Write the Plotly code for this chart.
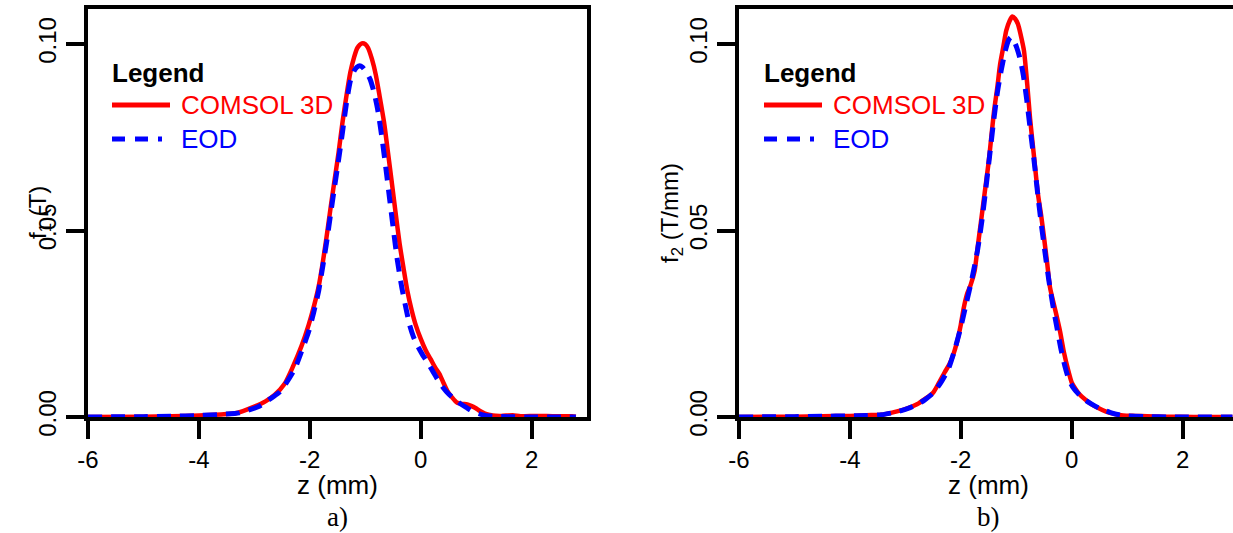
import plotly.graph_objects as go

# ---------------- data ----------------
z1_comsol = [-6.0, -5.0, -4.5, -4.0, -3.6, -3.34, -3.0, -2.8, -2.63, -2.45, -2.31, -2.15, -2.02, -1.92,
             -1.84, -1.77, -1.70, -1.63, -1.56, -1.48, -1.41, -1.34, -1.27, -1.20, -1.14, -1.06, -1.00,
             -0.95, -0.88, -0.81, -0.74, -0.66, -0.59, -0.52, -0.45, -0.38, -0.31, -0.24, -0.16, -0.09,
             0.0, 0.09, 0.18, 0.26, 0.34, 0.41, 0.48, 0.57, 0.66, 0.75, 0.84, 0.91, 0.98, 1.07, 1.16,
             1.30, 1.45, 1.66, 1.80, 2.09, 2.40, 2.73, 2.80]
f1_comsol = [0.0, 0.0001, 0.0002, 0.0004, 0.0007, 0.0010, 0.0028, 0.0042, 0.0060, 0.0090, 0.0133, 0.0190,
             0.0247, 0.0300, 0.0350, 0.0410, 0.0480, 0.0555, 0.0628, 0.0710, 0.0790, 0.0860, 0.0923,
             0.0965, 0.0990, 0.1002, 0.1000, 0.0990, 0.0960, 0.0918, 0.0860, 0.0790, 0.0710, 0.0628,
             0.0545, 0.0465, 0.0400, 0.0338, 0.0285, 0.0247, 0.0210, 0.0179, 0.0155, 0.0133, 0.0115,
             0.0092, 0.0070, 0.0052, 0.0038, 0.0035, 0.0034, 0.0030, 0.0025, 0.0016, 0.0009, 0.0004,
             0.0003, 0.0005, 0.0002, 0.0003, 0.0002, 0.0002, 0.0001]

z1_eod = [-6.0, -5.0, -4.5, -3.99, -3.6, -3.27, -2.91, -2.75, -2.56, -2.42, -2.27, -2.15, -2.02, -1.93,
          -1.84, -1.77, -1.70, -1.63, -1.56, -1.48, -1.41, -1.34, -1.27, -1.20, -1.15, -1.10, -1.05,
          -0.98, -0.91, -0.84, -0.77, -0.70, -0.63, -0.56, -0.49, -0.42, -0.34, -0.27, -0.20, -0.13,
          -0.06, 0.03, 0.12, 0.21, 0.30, 0.40, 0.51, 0.62, 0.73, 0.84, 0.94, 1.05, 1.16, 1.30, 1.60,
          2.00, 2.80]
f1_eod = [0.0, 0.0001, 0.0002, 0.0004, 0.0007, 0.0011, 0.0029, 0.0045, 0.0065, 0.0092, 0.0129, 0.0175,
          0.0229, 0.0280, 0.0338, 0.0400, 0.0465, 0.0538, 0.0610, 0.0690, 0.0764, 0.0840, 0.0900,
          0.0928, 0.0938, 0.0942, 0.0938, 0.0925, 0.0905, 0.0870, 0.0820, 0.0750, 0.0670, 0.0585,
          0.0500, 0.0420, 0.0347, 0.0295, 0.0247, 0.0215, 0.0192, 0.0168, 0.0147, 0.0125, 0.0102,
          0.0080, 0.0061, 0.0047, 0.0034, 0.0024, 0.0015, 0.0009, 0.0004, 0.0002, 0.0001, 0.0, 0.0]

z2_comsol = [-6.0, -5.0, -4.5, -4.0, -3.7, -3.43, -3.15, -2.95, -2.79, -2.65, -2.50, -2.40, -2.29, -2.21,
             -2.14, -2.07, -2.00, -1.95, -1.89, -1.82, -1.75, -1.70, -1.64, -1.57, -1.50, -1.45, -1.40,
             -1.34, -1.29, -1.23, -1.18, -1.12, -1.07, -1.02, -0.97, -0.92, -0.86, -0.80, -0.75, -0.68,
             -0.61, -0.55, -0.50, -0.44, -0.39, -0.29, -0.21, -0.14, -0.07, 0.0, 0.07, 0.14, 0.25, 0.36,
             0.48, 0.61, 0.75, 0.93, 1.15, 1.36, 1.70, 2.20, 2.90]
f2_comsol = [0.0, 0.0001, 0.0002, 0.0003, 0.0005, 0.0006, 0.0015, 0.0024, 0.0034, 0.0048, 0.0065, 0.0090,
             0.0120, 0.0140, 0.0165, 0.0200, 0.0247, 0.0290, 0.0328, 0.0355, 0.0392, 0.0450, 0.0519,
             0.0600, 0.0680, 0.0750, 0.0820, 0.0885, 0.0946, 0.0995, 0.1036, 0.1062, 0.1074, 0.1068,
             0.1054, 0.1025, 0.0982, 0.0890, 0.0800, 0.0700, 0.0600, 0.0540, 0.0483, 0.0410, 0.0347,
             0.0283, 0.0230, 0.0174, 0.0130, 0.0093, 0.0075, 0.0061, 0.0046, 0.0034, 0.0024, 0.0015,
             0.0009, 0.0004, 0.0003, 0.0002, 0.0001, 0.0, 0.0]

z2_eod = [-6.0, -5.0, -4.5, -4.0, -3.7, -3.43, -3.15, -2.95, -2.79, -2.65, -2.50, -2.36, -2.22, -2.10,
          -2.00, -1.90, -1.80, -1.70, -1.62, -1.55, -1.48, -1.41, -1.34, -1.27, -1.20, -1.14, -1.10,
          -1.05, -0.99, -0.93, -0.87, -0.81, -0.75, -0.68, -0.61, -0.55, -0.48, -0.41, -0.34, -0.26,
          -0.19, -0.12, -0.05, 0.03, 0.12, 0.25, 0.40, 0.55, 0.70, 0.85, 1.0, 1.3, 1.8, 2.9]
f2_eod = [0.0, 0.0001, 0.0002, 0.0003, 0.0004, 0.0006, 0.0014, 0.0023, 0.0033, 0.0046, 0.0064, 0.0092,
          0.0130, 0.0185, 0.0240, 0.0305, 0.0370, 0.0445, 0.0525, 0.0610, 0.0700, 0.0790, 0.0870,
          0.0930, 0.0980, 0.1010, 0.1018, 0.1012, 0.0990, 0.0960, 0.0915, 0.0850, 0.0775, 0.0690,
          0.0595, 0.0520, 0.0440, 0.0365, 0.0300, 0.0235, 0.0180, 0.0135, 0.0100, 0.0078, 0.0062,
          0.0045, 0.0031, 0.0020, 0.0012, 0.0006, 0.0003, 0.0001, 0.0, 0.0]

series_names = ["COMSOL 3D", "EOD"]
legend_title = "Legend"
x_tick_vals = [-6, -4, -2, 0, 2]
x_tick_text = ["-6", "-4", "-2", "0", "2"]
y_tick_vals = [0.0, 0.05, 0.10]
y_tick_text = ["0.00", "0.05", "0.10"]
x_title = "z (mm)"
y_titles = ["f<sub>1</sub> (T)", "f<sub>2</sub> (T/mm)"]
panel_labels = ["a)", "b)"]

# ---------------- layout helpers ----------------
W, H = 1233, 533
RED, BLUE = "#ff0000", "#0000ff"
FONT = "Arial, Liberation Sans, sans-serif"
SERIF = "Times New Roman, Liberation Serif, serif"


def px(x):
    return x / W


def py(y):
    return 1 - y / H


dom_x = [[px(88), px(587)], [px(739), 1.0]]
dom_y = [py(417), py(9)]
x_ranges = [[-6, 3], [-6, -6 + 9 * (W - 739) / 499]]

fig = go.Figure()
data = [((z1_comsol, f1_comsol), (z1_eod, f1_eod)), ((z2_comsol, f2_comsol), (z2_eod, f2_eod))]
for i, ((zc, fc), (ze, fe)) in enumerate(data):
    xa = "x" if i == 0 else "x2"
    ya = "y" if i == 0 else "y2"
    fig.add_trace(go.Scatter(x=zc, y=fc, mode="lines", name=series_names[0], xaxis=xa, yaxis=ya,
                             line=dict(color=RED, width=4.5, shape="spline", smoothing=0.6),
                             showlegend=False, hoverinfo="skip"))
    fig.add_trace(go.Scatter(x=ze, y=fe, mode="lines", name=series_names[1], xaxis=xa, yaxis=ya,
                             line=dict(color=BLUE, width=5, dash="14px,9px", shape="spline", smoothing=0.6),
                             showlegend=False, hoverinfo="skip"))

axis_common = dict(showgrid=False, zeroline=False, showline=True, linecolor="black", linewidth=4,
                   ticks="outside", ticklen=18, tickwidth=4, tickcolor="black", automargin=False,
                   tickfont=dict(family=FONT, size=24, color="black"))

for i in range(2):
    sfx = "" if i == 0 else "2"
    fig.layout["xaxis" + sfx] = dict(axis_common, domain=dom_x[i], range=x_ranges[i],
                                     tickvals=x_tick_vals, ticktext=x_tick_text, mirror=True,
                                     anchor="y" + sfx)
    fig.layout["yaxis" + sfx] = dict(axis_common, domain=dom_y, range=[0, 0.1094],
                                     tickvals=y_tick_vals, ticktext=y_tick_text, tickangle=-90,
                                     mirror=(i == 0), anchor="x" + sfx)

annotations = []
shapes = []
title_x = [40, 672]
leg_x0 = [112, 764]
for i in range(2):
    cx = (dom_x[i][0] * W + (dom_x[i][0] * W + 499)) / 2
    annotations.append(dict(text=x_title, xref="paper", yref="paper", x=px(cx), y=py(485),
                            xanchor="center", yanchor="middle", showarrow=False,
                            font=dict(family=FONT, size=26, color="black")))
    annotations.append(dict(text=panel_labels[i], xref="paper", yref="paper", x=px(cx), y=py(517),
                            xanchor="center", yanchor="middle", showarrow=False,
                            font=dict(family=SERIF, size=27, color="black")))
    annotations.append(dict(text=y_titles[i], xref="paper", yref="paper", x=px(title_x[i]), y=py(213),
                            xanchor="center", yanchor="middle", showarrow=False, textangle=-90,
                            font=dict(family=FONT, size=24, color="black")))
    lx = leg_x0[i]
    annotations.append(dict(text="<b>" + legend_title + "</b>", xref="paper", yref="paper", x=px(lx - 2),
                            y=py(73), xanchor="left", yanchor="middle", showarrow=False,
                            font=dict(family=FONT, size=26, color="black")))
    annotations.append(dict(text=series_names[0], xref="paper", yref="paper", x=px(lx + 67), y=py(105),
                            xanchor="left", yanchor="middle", showarrow=False,
                            font=dict(family=FONT, size=26, color=RED)))
    annotations.append(dict(text=series_names[1], xref="paper", yref="paper", x=px(lx + 67), y=py(139),
                            xanchor="left", yanchor="middle", showarrow=False,
                            font=dict(family=FONT, size=26, color=BLUE)))
    shapes.append(dict(type="line", xref="paper", yref="paper", x0=px(lx), x1=px(lx + 58),
                       y0=py(105), y1=py(105), line=dict(color=RED, width=5)))
    shapes.append(dict(type="line", xref="paper", yref="paper", x0=px(lx), x1=px(lx + 50),
                       y0=py(139), y1=py(139), line=dict(color=BLUE, width=5, dash="13px,10px")))

fig.update_layout(width=W, height=H, margin=dict(l=0, r=0, t=0, b=0),
                  paper_bgcolor="white", plot_bgcolor="white", showlegend=False,
                  hovermode=False, annotations=annotations, shapes=shapes)

fig.write_html("out.html", config={"displayModeBar": False, "staticPlot": True},
               post_script="document.body.style.margin='0';document.body.style.overflow='hidden';")
